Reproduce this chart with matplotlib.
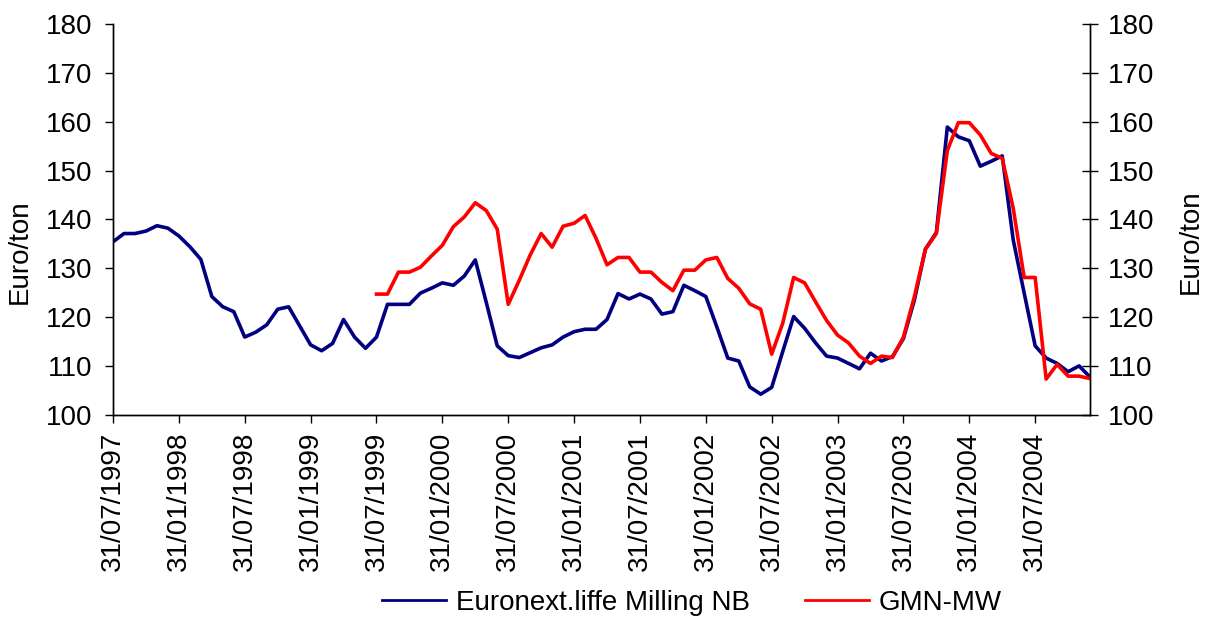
import matplotlib
matplotlib.use("Agg")
import matplotlib.pyplot as plt
import numpy as np

plt.rcParams['font.family'] = ['Liberation Sans', 'DejaVu Sans']

# monthly prices, Jul 1997 .. Dec 2004 (Euro/ton)
euronext = [135.4, 137.1, 137.1, 137.6, 138.7, 138.2, 136.6, 134.4, 131.8, 124.2,
            122.1, 121.1, 115.9, 116.9, 118.4, 121.6, 122.1, 118.2, 114.3, 113.1,
            114.6, 119.5, 115.9, 113.6, 115.9, 122.6, 122.6, 122.6, 124.9, 125.9,
            127.0, 126.5, 128.4, 131.7, 123.0, 114.1, 112.1, 111.7, 112.7, 113.7,
            114.3, 115.9, 117.0, 117.5, 117.5, 119.5, 124.8, 123.7, 124.7, 123.7,
            120.6, 121.1, 126.5, 125.4, 124.2, 118.0, 111.6, 111.0, 105.7, 104.2,
            105.6, 112.9, 120.1, 117.7, 114.7, 112.0, 111.6, 110.5, 109.4, 112.6,
            111.0, 111.9, 115.6, 123.5, 133.9, 137.3, 158.9, 156.9, 156.1, 150.9,
            151.9, 153.0, 135.8, 124.9, 114.1, 111.6, 110.5, 108.8, 110.0, 107.7]

# GMN-MW starts in Jul 1999
gmn = [np.nan] * 24 + [
    124.7, 124.7, 129.2, 129.2, 130.2, 132.5, 134.7, 138.5, 140.5, 143.4,
    141.8, 138.0, 122.6, 127.5, 132.7, 137.1, 134.3, 138.6, 139.2, 140.8,
    136.1, 130.7, 132.2, 132.2, 129.2, 129.2, 127.1, 125.4, 129.6, 129.6,
    131.7, 132.2, 127.9, 125.9, 122.7, 121.6, 112.4, 118.7, 128.1, 127.0,
    123.1, 119.3, 116.3, 114.7, 112.0, 110.5, 112.0, 111.7, 115.9, 124.2,
    133.9, 137.1, 154.1, 159.8, 159.8, 157.3, 153.5, 152.5, 142.3, 128.1,
    128.1, 107.3, 110.3, 107.9, 107.9, 107.4]

tick_labels = ['31/07/1997', '31/01/1998', '31/07/1998', '31/01/1999', '31/07/1999',
               '31/01/2000', '31/07/2000', '31/01/2001', '31/07/2001', '31/01/2002',
               '31/07/2002', '31/01/2003', '31/07/2003', '31/01/2004', '31/07/2004']

x = np.arange(len(euronext))

fig = plt.figure(figsize=(12.14, 6.32), dpi=100)
ax = fig.add_axes([0.0931, 0.3438, 0.8048, 0.6182])
ax2 = ax.twinx()

l1, = ax.plot(x, euronext, color='#000080', lw=2.6, label='Euronext.liffe Milling NB')
l2, = ax2.plot(x, gmn, color='#FF0000', lw=2.6, label='GMN-MW')

for a in (ax, ax2):
    a.set_xlim(0, len(euronext) - 1)
    a.set_ylim(100, 180)
    a.set_yticks(np.arange(100, 181, 10))
    a.spines['top'].set_visible(False)
    for s in a.spines.values():
        s.set_linewidth(1.0)

ax.set_xticks(np.arange(0, len(euronext), 6))
ax.set_xticklabels(tick_labels, rotation=90, fontsize=20)
ax.tick_params(axis='x', direction='out', length=6, width=1, pad=6)
ax.tick_params(axis='y', direction='out', length=6, width=1, pad=9, labelsize=20)
ax2.tick_params(axis='y', direction='inout', length=11, width=1, pad=7, labelsize=20)

ax.set_ylabel('Euro/ton', fontsize=20)
ax2.set_ylabel('Euro/ton', fontsize=20)
ax.yaxis.set_label_coords(-0.082, 0.416)
ax2.yaxis.set_label_coords(1.090, 0.442)

leg = fig.legend(handles=[l1, l2], loc='center', bbox_to_anchor=(692 / 1214, 0.046),
                 ncol=2, frameon=False, fontsize=20, handlelength=2.3,
                 handletextpad=0.35, columnspacing=2.0)
for h in leg.get_lines():
    h.set_linewidth(2)

fig.savefig('out.png', dpi=100)
